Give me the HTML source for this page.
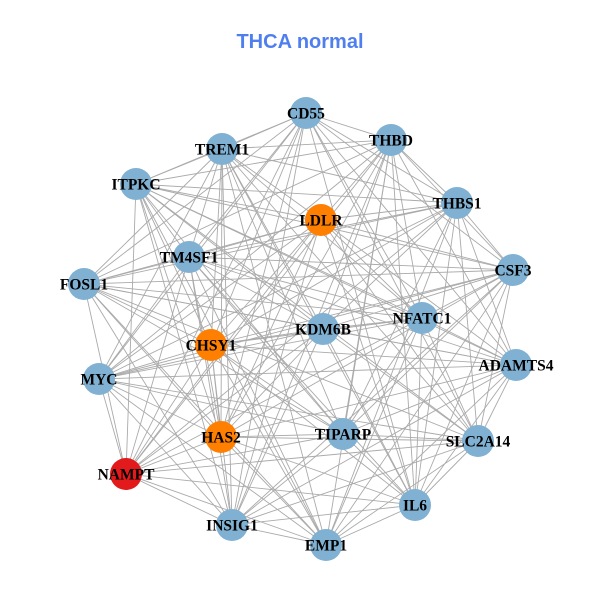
<!DOCTYPE html>
<html><head><meta charset="utf-8"><style>
html,body{margin:0;padding:0;background:#fff;}
svg{display:block;}
</style></head><body>
<svg id="s" width="600" height="600" xmlns="http://www.w3.org/2000/svg">
<rect width="600" height="600" fill="#fff"/>
<text x="300" y="48" text-anchor="middle" font-family="Liberation Sans, sans-serif" font-weight="bold" font-size="20" fill="#4f7fef">THCA normal</text>
<g id="e" stroke="#aaaaaa" stroke-width="0.9"></g>
<g id="n"></g>
</svg>
<script>
var N=[["CD55",306,113,"b"],["THBD",391,140,"b"],["TREM1",222,149,"b"],["ITPKC",136,184,"b"],["THBS1",457,203,"b"],["LDLR",321,220,"o"],["TM4SF1",189,257,"b"],["CSF3",513,270,"b"],["FOSL1",84,284,"b"],["NFATC1",422,318,"b"],["KDM6B",323,329,"b"],["CHSY1",211,345,"o"],["ADAMTS4",516,365,"b"],["MYC",99,379,"b"],["HAS2",221,437,"o"],["TIPARP",343,434,"b"],["SLC2A14",478,441,"b"],["NAMPT",126,474,"r"],["IL6",415,505,"b"],["INSIG1",232,525,"b"],["EMP1",326,545,"b"]];
var C={b:"#80b1d3",o:"#ff7f00",r:"#e31a1c"};
var ns="http://www.w3.org/2000/svg",e=document.getElementById("e"),g=document.getElementById("n");
for(var i=0;i<N.length;i++)for(var j=i+1;j<N.length;j++){
 if((i*7+j*3)%5==0)continue;
 var l=document.createElementNS(ns,"line");
 l.setAttribute("x1",N[i][1]);l.setAttribute("y1",N[i][2]);l.setAttribute("x2",N[j][1]);l.setAttribute("y2",N[j][2]);e.appendChild(l);}
N.forEach(function(d){
 var c=document.createElementNS(ns,"circle");c.setAttribute("cx",d[1]);c.setAttribute("cy",d[2]);c.setAttribute("r",16);c.setAttribute("fill",C[d[3]]);g.appendChild(c);});
N.forEach(function(d){
 var t=document.createElementNS(ns,"text");t.setAttribute("x",d[1]);t.setAttribute("y",d[2]+5.5);t.setAttribute("text-anchor","middle");
 t.setAttribute("font-family","Liberation Serif, serif");t.setAttribute("font-weight","bold");t.setAttribute("font-size","15.5");t.textContent=d[0];g.appendChild(t);});
</script>
</body></html>
